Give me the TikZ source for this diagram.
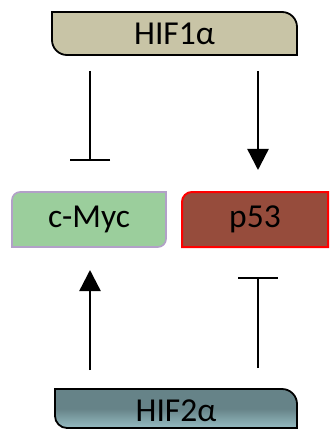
\documentclass[tikz,border=0pt]{standalone}
\usepackage{fontspec}
\setmainfont{Carlito}
\usetikzlibrary{arrows.meta}
\definecolor{tanfill}{RGB}{200,196,166}
\definecolor{mycfill}{RGB}{155,206,156}
\definecolor{mycline}{RGB}{178,160,200}
\definecolor{pfill}{RGB}{150,76,60}
\definecolor{hiftwo}{RGB}{102,131,136}
\definecolor{hiftwob}{RGB}{150,188,194}
\tikzset{
  lbl/.style={inner sep=0pt, font=\fontsize{33.5}{36}\selectfont},
  conn/.style={line width=2.4pt},
  act/.style={conn, -{Triangle[width=21pt,length=21pt]}},
  inh/.style={conn, -{Bar[width=40pt,line width=2.4pt]}},
}
\begin{document}
\begin{tikzpicture}[x=1pt,y=-1pt]
\useasboundingbox (0,0) rectangle (329,430);
% HIF1a box
\draw[line width=1.8pt, fill=tanfill]
  (52,12) -- (282,12) arc[start angle=270,end angle=360,radius=15] -- (297,55)
  -- (67,55) arc[start angle=90,end angle=180,radius=15] -- cycle;
% c-Myc box
\draw[line width=1.6pt, draw=mycline, fill=mycfill]
  (20,192) -- (166,192) -- (166,239) arc[start angle=0,end angle=90,radius=8]
  -- (12,247) -- (12,200) arc[start angle=180,end angle=270,radius=8] -- cycle;
% p53 box
\draw[line width=2pt, draw=red, fill=pfill]
  (192,192) -- (328,192) -- (328,247) -- (182,247) -- (182,202)
  arc[start angle=180,end angle=270,radius=10] -- cycle;
% HIF2a box
\draw[line width=1.8pt, top color=hiftwo, bottom color=hiftwob, middle color=hiftwo]
  (55,389) -- (282,389) arc[start angle=270,end angle=360,radius=15] -- (297,428)
  -- (67,428) arc[start angle=90,end angle=180,radius=12] -- cycle;
% labels
\node[lbl] (hif1) at (174.5,33.5) {HIF1α};
\node[lbl] (myc) at (89,219.5) {c-Myc};
\node[lbl] (p53) at (255,219.5) {p53};
\node[lbl] (hif2) at (176,411) {HIF2α};
% connector ends
\coordinate (a1s) at (90,71);
\coordinate (a1e) at (90,161);
\coordinate (a2s) at (258,71);
\coordinate (a2e) at (258,170);
\coordinate (a3s) at (90,370);
\coordinate (a3e) at (90,270);
\coordinate (a4s) at (258,368);
\coordinate (a4e) at (258,277);
\draw[inh] (a1s) -- (a1e);
\draw[act] (a2s) -- (a2e);
\draw[act] (a3s) -- (a3e);
\draw[inh] (a4s) -- (a4e);
\end{tikzpicture}
\end{document}
